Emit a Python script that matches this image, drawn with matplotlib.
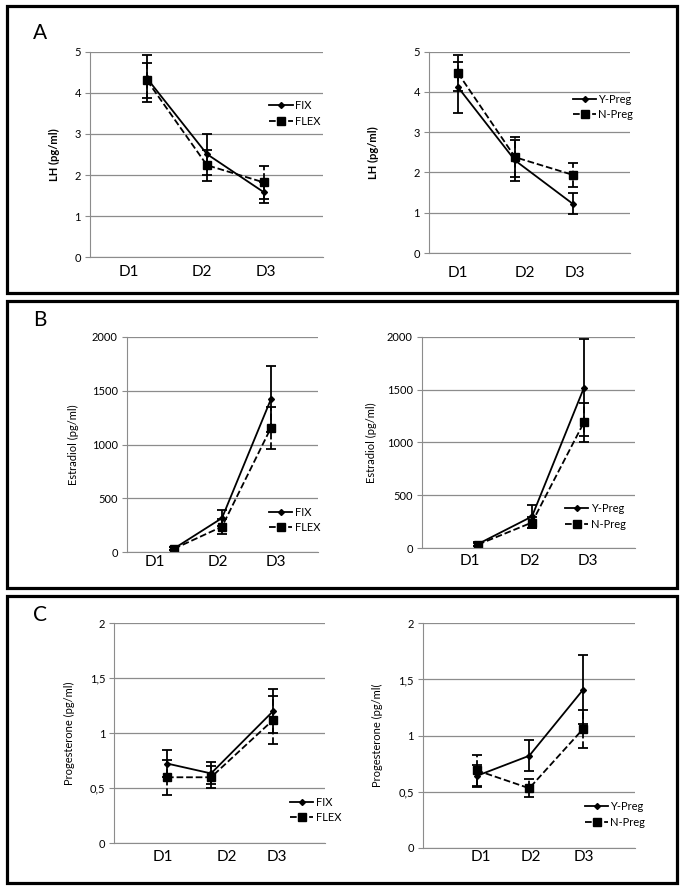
import matplotlib.pyplot as plt
from matplotlib.patches import Rectangle
from matplotlib.ticker import FuncFormatter

plt.rcParams['font.family'] = ['Lato', 'DejaVu Sans']

dias = ['D1', 'D2', 'D3']

# A - LH (pg/ml)
lh_x_izq = [2.45, 5.02, 7.47]
lh_fix = [4.35, 2.51, 1.58]
lh_fix_err = [0.57, 0.50, 0.25]
lh_flex = [4.30, 2.24, 1.82]
lh_flex_err = [0.42, 0.38, 0.40]

lh_x_der = [1.44, 4.28, 7.16]
lh_ypreg = [4.12, 2.30, 1.22]
lh_ypreg_err = [0.63, 0.50, 0.26]
lh_npreg = [4.47, 2.38, 1.94]
lh_npreg_err = [0.45, 0.50, 0.30]

# B - Estradiol (pg/ml)
e2_x_izq = [2.47, 4.98, 7.54]
e2_fix = [35, 318, 1422]
e2_fix_err = [15, 75, 310]
e2_flex = [33, 238, 1156]
e2_flex_err = [12, 68, 195]

e2_x_der = [2.64, 5.17, 7.61]
e2_ypreg = [40, 300, 1518]
e2_ypreg_err = [15, 108, 455]
e2_npreg = [35, 243, 1191]
e2_npreg_err = [12, 50, 185]

# C - Progesterona (pg/ml)
p4_x_izq = [2.50, 4.59, 7.53]
p4_fix = [0.725, 0.635, 1.20]
p4_fix_err = [0.12, 0.10, 0.20]
p4_flex = [0.60, 0.60, 1.12]
p4_flex_err = [0.16, 0.10, 0.22]

p4_x_der = [2.54, 5.02, 7.56]
p4_ypreg = [0.64, 0.82, 1.41]
p4_ypreg_err = [0.10, 0.14, 0.31]
p4_npreg = [0.69, 0.53, 1.06]
p4_npreg_err = [0.14, 0.08, 0.17]


def coma(v, pos):
    # decimales con coma, como en Excel en castellano
    if float(v).is_integer():
        return '%d' % v
    return ('%g' % v).replace('.', ',')


def grafico(rect, x, s1, e1, s2, e2, nombres, ylabel, ymax, ypaso,
            pos_etiq, pad_etiq, label_x, leg_pos, negrita=False):
    ax = fig.add_axes(rect)
    ax.set_xlim(0, 10)
    ax.set_ylim(0, ymax)
    ax.set_yticks([i * ypaso for i in range(int(round(ymax / ypaso)) + 1)])
    ax.yaxis.set_major_formatter(FuncFormatter(coma))
    ax.grid(axis='y', color='#8c8c8c', linewidth=0.9)
    ax.set_axisbelow(True)
    for lado in ['top', 'right']:
        ax.spines[lado].set_visible(False)
    ax.spines['left'].set_color('#8c8c8c')
    ax.spines['bottom'].set_color('#8c8c8c')
    ax.tick_params(axis='y', length=3.5, color='#8c8c8c', labelsize=8, pad=3)
    ax.set_xticks(pos_etiq)
    ax.set_xticklabels(dias)
    ax.tick_params(axis='x', length=0, labelsize=11, pad=pad_etiq)

    # barras de error (sin leyenda)
    ax.errorbar(x, s1, yerr=e1, fmt='none', ecolor='black', capsize=3.5,
                capthick=1.3, elinewidth=1.3)
    eb = ax.errorbar(x, s2, yerr=e2, fmt='none', ecolor='black', capsize=3.5,
                     capthick=1.3, elinewidth=1.3)
    eb[2][0].set_linestyle('--')

    # serie 1: linea continua con rombos
    ax.plot(x, s1, color='black', linewidth=1.3, marker='D', markersize=3,
            label=nombres[0])
    # serie 2: linea discontinua con cuadrados
    ax.plot(x, s2, color='black', linewidth=1.3, linestyle='--', marker='s',
            markersize=6, label=nombres[1])

    ax.set_ylabel(ylabel, fontsize=8, fontweight='bold' if negrita else 'normal')
    ax.yaxis.set_label_coords(label_x, 0.5)
    ax.legend(loc='center left', bbox_to_anchor=leg_pos, frameon=False,
              fontsize=8, handlelength=2.1, handletextpad=0.2,
              borderpad=0, borderaxespad=0, labelspacing=0.4)
    return ax


fig = plt.figure(figsize=(6.85, 8.90), dpi=100)

# marcos de cada panel
for y_arriba, y_abajo in [(6, 293), (301, 588), (596, 883)]:
    fig.patches.append(Rectangle((7 / 685, 1 - y_abajo / 890), 670 / 685,
                                 (y_abajo - y_arriba) / 890, transform=fig.transFigure,
                                 fill=False, edgecolor='black', linewidth=2.3))

fig.text(40 / 685, 1 - 33 / 890, 'A', fontsize=15, va='center', ha='center')
fig.text(40 / 685, 1 - 320 / 890, 'B', fontsize=15, va='center', ha='center')
fig.text(40 / 685, 1 - 615 / 890, 'C', fontsize=15, va='center', ha='center')

grupos = ['FIX', 'FLEX']
preg = ['Y-Preg', 'N-Preg']

grafico([0.1314, 0.7109, 0.340, 0.231], lh_x_izq, lh_fix, lh_fix_err, lh_flex, lh_flex_err,
        grupos, 'LH (pg/ml)', 5, 1, [1.67, 4.81, 7.55], 5.5, -0.13, (0.77, 0.70), True)
grafico([0.6263, 0.7157, 0.2934, 0.2262], lh_x_der, lh_ypreg, lh_ypreg_err, lh_npreg,
        lh_npreg_err, preg, 'LH (pg/ml)', 5, 1, [1.44, 4.78, 7.26], 9, -0.25,
        (0.716, 0.725), True)

grafico([0.185, 0.3794, 0.2793, 0.2422], e2_x_izq, e2_fix, e2_fix_err, e2_flex, e2_flex_err,
        grupos, 'Estradiol (pg/ml)', 2000, 500, [1.48, 4.77, 7.80], 2, -0.25, (0.744, 0.15))
grafico([0.6156, 0.3840, 0.3114, 0.2378], e2_x_der, e2_ypreg, e2_ypreg_err, e2_npreg,
        e2_npreg_err, preg, 'Estradiol (pg/ml)', 2000, 500, [2.26, 5.08, 7.80], 4.5, -0.21,
        (0.672, 0.15))

grafico([0.1669, 0.0525, 0.3076, 0.2472], p4_x_izq, p4_fix, p4_fix_err, p4_flex, p4_flex_err,
        grupos, 'Progesterone (pg/ml)', 2, 0.5, [2.31, 5.35, 7.72], 5, -0.187, (0.834, 0.151))
grafico([0.6171, 0.0475, 0.3099, 0.2521], p4_x_der, p4_ypreg, p4_ypreg_err, p4_npreg,
        p4_npreg_err, preg, 'Progesterone (pg/ml(', 2, 0.5, [2.73, 5.10, 7.61], 1.5, -0.187,
        (0.764, 0.148))

plt.savefig('out.png', dpi=100)
